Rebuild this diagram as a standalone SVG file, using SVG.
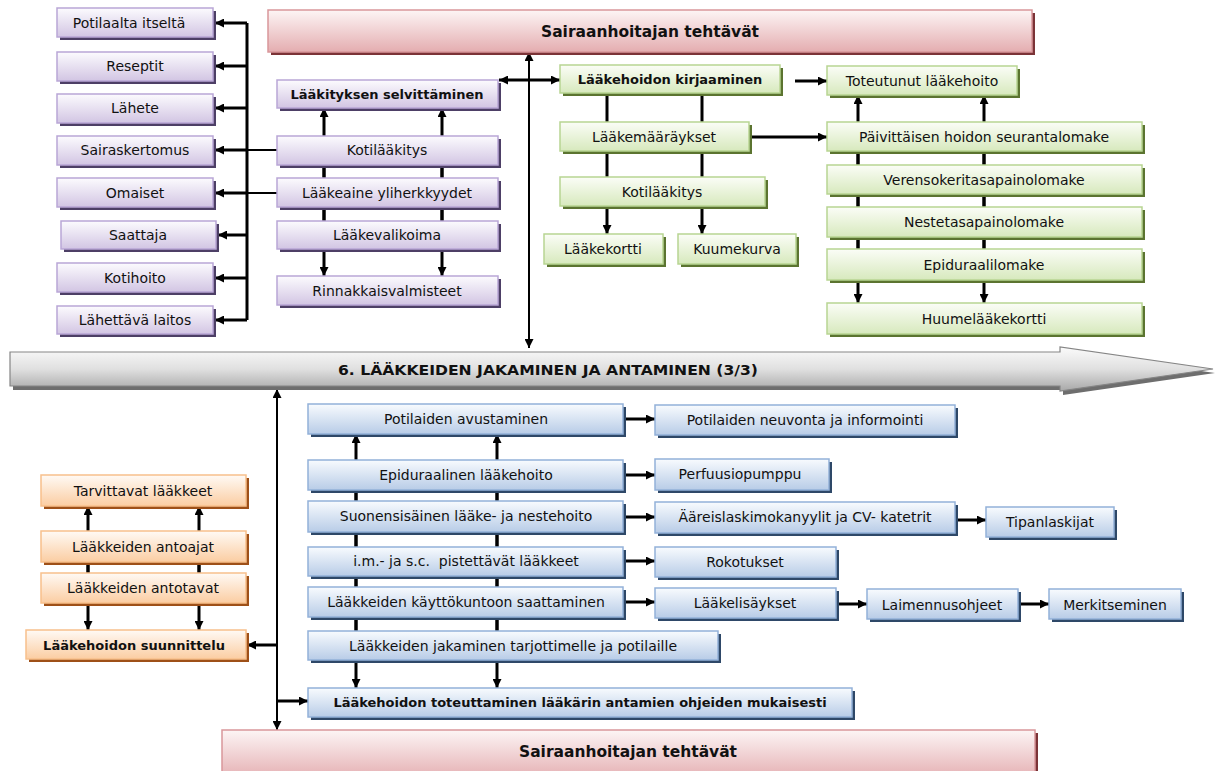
<svg xmlns="http://www.w3.org/2000/svg" width="1217" height="771" viewBox="0 0 1217 771">
  <defs>
    <linearGradient id="gP" x1="0" y1="0" x2="0" y2="1"><stop offset="0" stop-color="#fcfbfe"/><stop offset="1" stop-color="#d2c5e3"/></linearGradient>
    <linearGradient id="gG" x1="0" y1="0" x2="0" y2="1"><stop offset="0" stop-color="#fbfdf7"/><stop offset="1" stop-color="#d7e9bd"/></linearGradient>
    <linearGradient id="gO" x1="0" y1="0" x2="0" y2="1"><stop offset="0" stop-color="#fffaf5"/><stop offset="1" stop-color="#fbcda2"/></linearGradient>
    <linearGradient id="gB" x1="0" y1="0" x2="0" y2="1"><stop offset="0" stop-color="#f8fbfe"/><stop offset="1" stop-color="#b8cce7"/></linearGradient>
    <linearGradient id="gR" x1="0" y1="0" x2="0" y2="1"><stop offset="0" stop-color="#fdf5f5"/><stop offset="1" stop-color="#e4adb0"/></linearGradient>
    <linearGradient id="gA" x1="0" y1="0" x2="0" y2="1"><stop offset="0" stop-color="#fbfbfb"/><stop offset="0.5" stop-color="#e0e0e0"/><stop offset="1" stop-color="#a8a8a8"/></linearGradient>
    <marker id="ah" viewBox="0 0 10 10" refX="10" refY="5" markerWidth="9" markerHeight="9" markerUnits="userSpaceOnUse" orient="auto-start-reverse">
      <path d="M0,0 L10,5 L0,10 z" fill="#000"/>
    </marker>
    <style>
      .t{font-family:"DejaVu Sans","Liberation Sans",Arial,sans-serif;font-size:14px;fill:#111;text-anchor:middle}
      .b{font-weight:bold;font-size:13px}
      .hd{font-weight:bold;font-size:16px}
      .ln{stroke:#000;stroke-width:3;fill:none}
      .thin{stroke-width:2}
      .arr{marker-end:url(#ah)}
      .dbl{marker-start:url(#ah);marker-end:url(#ah)}
      .p{fill:url(#gP);stroke:#b9a6d6;stroke-width:1.5}
      .ps{fill:#4d3f66}
      .g{fill:url(#gG);stroke:#b8d592;stroke-width:1.5}
      .gs{fill:#5b7430}
      .o{fill:url(#gO);stroke:#f8c08c;stroke-width:1.5}
      .os{fill:#9e5018}
      .bl{fill:url(#gB);stroke:#93b1d9;stroke-width:1.5}
      .bs{fill:#2e4868}
      .r{fill:url(#gR);stroke:#d9979b;stroke-width:1.5}
      .rs{fill:#7b3337}
    </style>
  </defs>

  <rect width="1217" height="771" fill="#fff"/>

  <!-- connectors (drawn first so the boxes sit on top) -->
  <g id="connectors">
    <!-- sources of medication info -->
    <line class="ln" x1="247" y1="23" x2="247" y2="320"/>
    <line class="ln arr" x1="247" y1="23" x2="215" y2="23"/>
    <line class="ln arr" x1="247" y1="66" x2="215" y2="66"/>
    <line class="ln arr" x1="247" y1="108" x2="215" y2="108"/>
    <line class="ln arr" x1="247" y1="150" x2="215" y2="150"/>
    <line class="ln arr" x1="247" y1="193" x2="215" y2="193"/>
    <line class="ln arr" x1="247" y1="235" x2="218" y2="235"/>
    <line class="ln arr" x1="247" y1="278" x2="215" y2="278"/>
    <line class="ln arr" x1="247" y1="320" x2="215" y2="320"/>
    <line class="ln thin" x1="247" y1="150" x2="278" y2="150"/>
    <line class="ln thin" x1="247" y1="193" x2="278" y2="193"/>

    <!-- medication review column -->
    <line class="ln arr" x1="324" y1="250" x2="324" y2="108"/>
    <line class="ln arr" x1="324" y1="136" x2="324" y2="276"/>
    <line class="ln arr" x1="442" y1="250" x2="442" y2="108"/>
    <line class="ln arr" x1="442" y1="136" x2="442" y2="276"/>

    <!-- central spine -->
    <line class="ln thin dbl" x1="529" y1="52" x2="529" y2="348"/>
    <line class="ln dbl" x1="499" y1="80" x2="560" y2="80"/>

    <!-- documentation column -->
    <line class="ln arr" x1="607" y1="93" x2="607" y2="234"/>
    <line class="ln arr" x1="702" y1="93" x2="702" y2="234"/>
    <line class="ln arr" x1="795" y1="81" x2="827" y2="81"/>
    <line class="ln arr" x1="749" y1="137" x2="827" y2="137"/>

    <!-- forms column -->
    <line class="ln arr" x1="858" y1="280" x2="858" y2="95"/>
    <line class="ln arr" x1="858" y1="122" x2="858" y2="303"/>
    <line class="ln arr" x1="984" y1="280" x2="984" y2="95"/>
    <line class="ln arr" x1="984" y1="122" x2="984" y2="303"/>

    <!-- lower spine -->
    <line class="ln thin dbl" x1="277" y1="389" x2="277" y2="730"/>
    <line class="ln arr" x1="277" y1="645" x2="247" y2="645"/>
    <line class="ln arr" x1="277" y1="701" x2="308" y2="701"/>

    <!-- planning column -->
    <line class="ln arr" x1="88" y1="603" x2="88" y2="506"/>
    <line class="ln arr" x1="88" y1="531" x2="88" y2="630"/>
    <line class="ln arr" x1="199" y1="603" x2="199" y2="506"/>
    <line class="ln arr" x1="199" y1="531" x2="199" y2="630"/>

    <!-- administration column -->
    <line class="ln arr" x1="356" y1="660" x2="356" y2="434"/>
    <line class="ln arr" x1="356" y1="460" x2="356" y2="688"/>
    <line class="ln arr" x1="497" y1="660" x2="497" y2="434"/>
    <line class="ln arr" x1="497" y1="460" x2="497" y2="688"/>

    <line class="ln arr" x1="623" y1="419" x2="655" y2="419"/>
    <line class="ln arr" x1="623" y1="475" x2="655" y2="475"/>
    <line class="ln arr" x1="623" y1="517" x2="655" y2="517"/>
    <line class="ln arr" x1="623" y1="561" x2="655" y2="561"/>
    <line class="ln arr" x1="623" y1="602" x2="655" y2="602"/>
    <line class="ln arr" x1="955" y1="520" x2="986" y2="520"/>
    <line class="ln arr" x1="836" y1="604" x2="867" y2="604"/>
    <line class="ln arr" x1="1018" y1="604" x2="1049" y2="604"/>
  </g>

  <!-- headline bars -->
  <g id="top-banner">
    <rect class="rs" x="271" y="13" width="764" height="42"/>
    <rect class="r" x="268" y="10" width="764" height="42"/>
    <text class="t hd" x="650" y="37" textLength="218" lengthAdjust="spacingAndGlyphs">Sairaanhoitajan tehtävät</text>
  </g>
  <g id="bottom-banner">
    <rect class="rs" x="225" y="733" width="813" height="50"/>
    <rect class="r" x="222" y="730" width="813" height="50"/>
    <text class="t hd" x="628" y="757" textLength="218" lengthAdjust="spacingAndGlyphs">Sairaanhoitajan tehtävät</text>
  </g>

  <!-- process arrow -->
  <g id="process-arrow">
    <polygon points="13,356 1063,356 1063,351 1215,373 1063,395 1063,390 13,390" fill="#6e6e6e"/>
    <polygon points="10,352 1060,352 1060,347 1213,369 1060,391 1060,386 10,386" fill="url(#gA)" stroke="#858585" stroke-width="1.2"/>
    <text class="t" x="548" y="375" font-weight="bold" font-size="16" textLength="420" lengthAdjust="spacingAndGlyphs">6. LÄÄKKEIDEN JAKAMINEN JA ANTAMINEN (3/3)</text>
  </g>

  <!-- information sources -->
  <g id="n-potilaalta"><rect class="ps" x="60" y="11" width="156" height="29"/><rect class="p" x="57" y="8" width="156" height="29"/><text class="t" x="129" y="28">Potilaalta itseltä</text></g>
  <g id="n-reseptit"><rect class="ps" x="60" y="55" width="156" height="29"/><rect class="p" x="57" y="52" width="156" height="29"/><text class="t" x="135" y="71">Reseptit</text></g>
  <g id="n-lahete"><rect class="ps" x="60" y="97" width="156" height="29"/><rect class="p" x="57" y="94" width="156" height="29"/><text class="t" x="135" y="113">Lähete</text></g>
  <g id="n-sairaskertomus"><rect class="ps" x="60" y="139" width="156" height="29"/><rect class="p" x="57" y="136" width="156" height="29"/><text class="t" x="135" y="155">Sairaskertomus</text></g>
  <g id="n-omaiset"><rect class="ps" x="60" y="181" width="156" height="29"/><rect class="p" x="57" y="178" width="156" height="29"/><text class="t" x="135" y="198">Omaiset</text></g>
  <g id="n-saattaja"><rect class="ps" x="64" y="224" width="155" height="28"/><rect class="p" x="61" y="221" width="155" height="28"/><text class="t" x="138" y="240">Saattaja</text></g>
  <g id="n-kotihoito"><rect class="ps" x="60" y="266" width="156" height="29"/><rect class="p" x="57" y="263" width="156" height="29"/><text class="t" x="135" y="283">Kotihoito</text></g>
  <g id="n-lahettava"><rect class="ps" x="60" y="309" width="156" height="28"/><rect class="p" x="57" y="306" width="156" height="28"/><text class="t" x="135" y="325">Lähettävä laitos</text></g>

  <!-- medication review -->
  <g id="n-selvittaminen"><rect class="ps" x="280" y="83" width="221" height="28"/><rect class="p" x="277" y="80" width="221" height="28"/><text class="t b" x="387" y="99">Lääkityksen selvittäminen</text></g>
  <g id="n-kotilaakitys1"><rect class="ps" x="280" y="139" width="221" height="29"/><rect class="p" x="277" y="136" width="221" height="29"/><text class="t" x="387" y="155">Kotilääkitys</text></g>
  <g id="n-yliherkkyydet"><rect class="ps" x="280" y="181" width="221" height="29"/><rect class="p" x="277" y="178" width="221" height="29"/><text class="t" x="387" y="198">Lääkeaine yliherkkyydet</text></g>
  <g id="n-valikoima"><rect class="ps" x="280" y="224" width="221" height="28"/><rect class="p" x="277" y="221" width="221" height="28"/><text class="t" x="387" y="240">Lääkevalikoima</text></g>
  <g id="n-rinnakkais"><rect class="ps" x="280" y="279" width="221" height="29"/><rect class="p" x="277" y="276" width="221" height="29"/><text class="t" x="387" y="296">Rinnakkaisvalmisteet</text></g>

  <!-- documentation -->
  <g id="n-kirjaaminen"><rect class="gs" x="563" y="68" width="220" height="28"/><rect class="g" x="560" y="65" width="220" height="28"/><text class="t b" x="670" y="84">Lääkehoidon kirjaaminen</text></g>
  <g id="n-maaraykset"><rect class="gs" x="563" y="125" width="189" height="29"/><rect class="g" x="560" y="122" width="189" height="29"/><text class="t" x="654" y="142">Lääkemääräykset</text></g>
  <g id="n-kotilaakitys2"><rect class="gs" x="563" y="180" width="205" height="29"/><rect class="g" x="560" y="177" width="205" height="29"/><text class="t" x="662" y="197">Kotilääkitys</text></g>
  <g id="n-laakekortti"><rect class="gs" x="547" y="237" width="119" height="30"/><rect class="g" x="544" y="234" width="119" height="30"/><text class="t" x="603" y="254">Lääkekortti</text></g>
  <g id="n-kuumekurva"><rect class="gs" x="681" y="237" width="118" height="30"/><rect class="g" x="678" y="234" width="118" height="30"/><text class="t" x="737" y="254">Kuumekurva</text></g>

  <!-- forms -->
  <g id="n-toteutunut"><rect class="gs" x="830" y="69" width="190" height="29"/><rect class="g" x="827" y="66" width="190" height="29"/><text class="t" x="922" y="86">Toteutunut lääkehoito</text></g>
  <g id="n-paivittaisen"><rect class="gs" x="830" y="125" width="315" height="29"/><rect class="g" x="827" y="122" width="315" height="29"/><text class="t" x="984" y="142">Päivittäisen hoidon seurantalomake</text></g>
  <g id="n-verensokeri"><rect class="gs" x="830" y="168" width="315" height="29"/><rect class="g" x="827" y="165" width="315" height="29"/><text class="t" x="984" y="185">Verensokeritasapainolomake</text></g>
  <g id="n-nestetasapaino"><rect class="gs" x="830" y="210" width="315" height="30"/><rect class="g" x="827" y="207" width="315" height="30"/><text class="t" x="984" y="227">Nestetasapainolomake</text></g>
  <g id="n-epiduraalilomake"><rect class="gs" x="830" y="252" width="315" height="31"/><rect class="g" x="827" y="249" width="315" height="31"/><text class="t" x="984" y="270">Epiduraalilomake</text></g>
  <g id="n-huumelaakekortti"><rect class="gs" x="830" y="306" width="315" height="31"/><rect class="g" x="827" y="303" width="315" height="31"/><text class="t" x="984" y="324">Huumelääkekortti</text></g>

  <!-- planning -->
  <g id="n-tarvittavat"><rect class="os" x="44" y="478" width="205" height="31"/><rect class="o" x="41" y="475" width="205" height="31"/><text class="t" x="143" y="496">Tarvittavat lääkkeet</text></g>
  <g id="n-antoajat"><rect class="os" x="44" y="534" width="205" height="31"/><rect class="o" x="41" y="531" width="205" height="31"/><text class="t" x="143" y="552">Lääkkeiden antoajat</text></g>
  <g id="n-antotavat"><rect class="os" x="44" y="576" width="205" height="30"/><rect class="o" x="41" y="573" width="205" height="30"/><text class="t" x="143" y="593">Lääkkeiden antotavat</text></g>
  <g id="n-suunnittelu"><rect class="os" x="29" y="633" width="220" height="29"/><rect class="o" x="26" y="630" width="220" height="29"/><text class="t b" x="134" y="650">Lääkehoidon suunnittelu</text></g>

  <!-- administration -->
  <g id="n-avustaminen"><rect class="bs" x="311" y="407" width="315" height="30"/><rect class="bl" x="308" y="404" width="315" height="30"/><text class="t" x="466" y="424">Potilaiden avustaminen</text></g>
  <g id="n-epiduraalinen"><rect class="bs" x="311" y="463" width="315" height="30"/><rect class="bl" x="308" y="460" width="315" height="30"/><text class="t" x="466" y="480">Epiduraalinen lääkehoito</text></g>
  <g id="n-suonensisainen"><rect class="bs" x="311" y="504" width="315" height="31"/><rect class="bl" x="308" y="501" width="315" height="31"/><text class="t" x="466" y="521">Suonensisäinen lääke- ja nestehoito</text></g>
  <g id="n-imsc"><rect class="bs" x="311" y="550" width="315" height="29"/><rect class="bl" x="308" y="547" width="315" height="29"/><text class="t" x="466" y="566" xml:space="preserve">i.m.- ja s.c.  pistettävät lääkkeet</text></g>
  <g id="n-kayttokuntoon"><rect class="bs" x="311" y="590" width="315" height="30"/><rect class="bl" x="308" y="587" width="315" height="30"/><text class="t" x="466" y="607">Lääkkeiden käyttökuntoon saattaminen</text></g>
  <g id="n-jakaminen"><rect class="bs" x="311" y="634" width="410" height="29"/><rect class="bl" x="308" y="631" width="410" height="29"/><text class="t" x="513" y="651">Lääkkeiden jakaminen tarjottimelle ja potilaille</text></g>
  <g id="n-toteuttaminen"><rect class="bs" x="311" y="691" width="544" height="29"/><rect class="bl" x="308" y="688" width="544" height="29"/><text class="t b" x="580" y="707">Lääkehoidon toteuttaminen lääkärin antamien ohjeiden mukaisesti</text></g>

  <g id="n-neuvonta"><rect class="bs" x="658" y="408" width="300" height="30"/><rect class="bl" x="655" y="405" width="300" height="30"/><text class="t" x="805" y="425">Potilaiden neuvonta ja informointi</text></g>
  <g id="n-perfuusio"><rect class="bs" x="658" y="462" width="174" height="31"/><rect class="bl" x="655" y="459" width="174" height="31"/><text class="t" x="740" y="479">Perfuusiopumppu</text></g>
  <g id="n-kanyylit"><rect class="bs" x="658" y="505" width="300" height="31"/><rect class="bl" x="655" y="502" width="300" height="31"/><text class="t" x="805" y="522">Ääreislaskimokanyylit ja CV- katetrit</text></g>
  <g id="n-tipanlaskijat"><rect class="bs" x="989" y="510" width="128" height="30"/><rect class="bl" x="986" y="507" width="128" height="30"/><text class="t" x="1050" y="527">Tipanlaskijat</text></g>
  <g id="n-rokotukset"><rect class="bs" x="658" y="550" width="181" height="30"/><rect class="bl" x="655" y="547" width="181" height="30"/><text class="t" x="745" y="567">Rokotukset</text></g>
  <g id="n-laakelisaykset"><rect class="bs" x="658" y="591" width="181" height="30"/><rect class="bl" x="655" y="588" width="181" height="30"/><text class="t" x="745" y="608">Lääkelisäykset</text></g>
  <g id="n-laimennus"><rect class="bs" x="870" y="592" width="151" height="30"/><rect class="bl" x="867" y="589" width="151" height="30"/><text class="t" x="942" y="610">Laimennusohjeet</text></g>
  <g id="n-merkitseminen"><rect class="bs" x="1052" y="592" width="132" height="30"/><rect class="bl" x="1049" y="589" width="132" height="30"/><text class="t" x="1115" y="610">Merkitseminen</text></g>
</svg>
